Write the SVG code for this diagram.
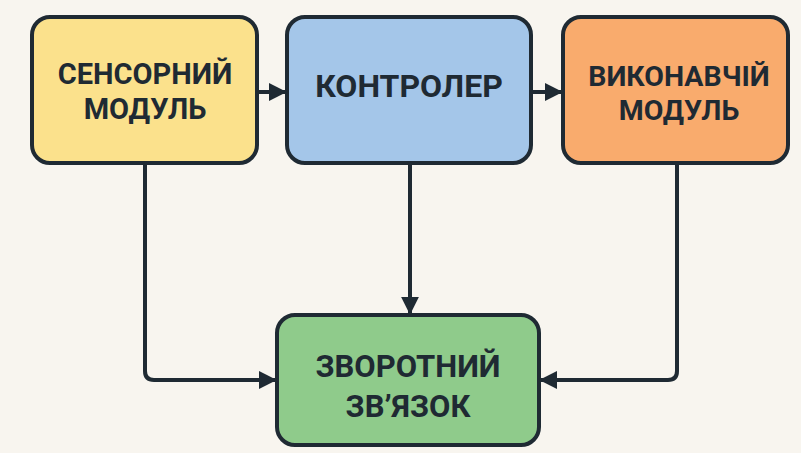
<svg xmlns="http://www.w3.org/2000/svg" width="801" height="453" viewBox="0 0 801 453">
<defs>
<style>
.box{stroke:#1f2a33;stroke-width:4}
.lbl{font-family:Roboto,"Liberation Sans",sans-serif;font-weight:700;font-size:29px;fill:#1f2a33;text-anchor:middle}
.con{fill:none;stroke:#1f2a33;stroke-width:4;stroke-linejoin:round}
</style>
<marker id="ah" viewBox="0 0 10 10" refX="9" refY="5" markerWidth="4.5" markerHeight="4.5" markerUnits="strokeWidth" orient="auto">
<path d="M0,0 L10,5 L0,10 z" fill="#1f2a33"/>
</marker>
</defs>
<rect width="801" height="453" fill="#f8f5ef"/>
<g id="connectors">
<path class="con" d="M258,92 H285" marker-end="url(#ah)"/>
<path class="con" d="M531,92 H561" marker-end="url(#ah)"/>
<path class="con" d="M410,163 V313" marker-end="url(#ah)"/>
<path class="con" d="M145,163 V371 Q145,380 154,380 H275" marker-end="url(#ah)"/>
<path class="con" d="M677,163 V371 Q677,380 668,380 H541" marker-end="url(#ah)"/>
</g>
<g id="sensor">
<rect class="box" x="32" y="17" width="225" height="146" rx="18" fill="#fbe18c"/>
<text class="lbl" x="145" y="84">СЕНСОРНИЙ</text>
<text class="lbl" x="145" y="118.5">МОДУЛЬ</text>
</g>
<g id="controller">
<rect class="box" x="287" y="17" width="244" height="146" rx="18" fill="#a4c6e9"/>
<text class="lbl" x="409" y="97" style="font-size:32px">КОНТРОЛЕР</text>
</g>
<g id="actuator">
<rect class="box" x="563" y="17" width="225" height="146" rx="18" fill="#f9ab6d"/>
<text class="lbl" x="679" y="86" style="font-size:28.5px">ВИКОНАВЧІЙ</text>
<text class="lbl" x="679" y="120" style="font-size:28.5px">МОДУЛЬ</text>
</g>
<g id="feedback">
<rect class="box" x="277" y="315" width="262" height="130" rx="18" fill="#8fcb8b"/>
<text class="lbl" x="408" y="377" style="font-size:31px">ЗВОРОТНИЙ</text>
<text class="lbl" x="408" y="417" style="font-size:31px">ЗВ’ЯЗОК</text>
</g>
</svg>
